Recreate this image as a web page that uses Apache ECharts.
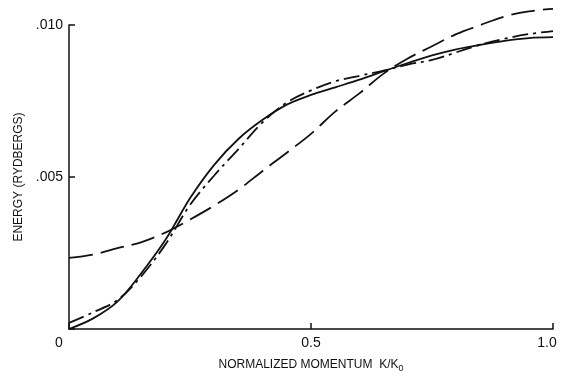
<!DOCTYPE html>
<html>
<head>
<meta charset="utf-8">
<script src="https://cdn.jsdelivr.net/npm/echarts@6/dist/echarts.min.js"></script>
<style>
  html, body { margin: 0; padding: 0; background: #fff; }
  #chart { width: 567px; height: 379px; }
</style>
</head>
<body>
<div id="chart"></div>
<script>
// Normalized momentum K/K0 sample points
const momentum = [0, 0.05, 0.1, 0.15, 0.2, 0.25, 0.3, 0.35, 0.4, 0.45, 0.5,
                  0.55, 0.6, 0.65, 0.7, 0.75, 0.8, 0.85, 0.9, 0.95, 1.0];

// Energy (Rydbergs) for the three dispersion curves
const solidEnergy = [0.0000, 0.00035, 0.00090, 0.00185, 0.00295, 0.00430, 0.00540, 0.00625,
                     0.00688, 0.00738, 0.00770, 0.00795, 0.00820, 0.00848, 0.00875, 0.00900,
                     0.00920, 0.00935, 0.00948, 0.00957, 0.00960];
const dashDotEnergy = [0.00020, 0.00055, 0.00095, 0.00175, 0.00280, 0.00408, 0.00505, 0.00592,
                       0.00680, 0.00745, 0.00785, 0.00815, 0.00833, 0.00850, 0.00870, 0.00885,
                       0.00910, 0.00935, 0.00955, 0.00970, 0.00980];
const longDashEnergy = [0.00234, 0.00245, 0.00266, 0.00286, 0.00318, 0.00360, 0.00406, 0.00458,
                        0.00520, 0.00580, 0.00642, 0.00715, 0.00775, 0.00840, 0.00890, 0.00930,
                        0.00970, 0.01000, 0.01028, 0.01045, 0.01053];

// Axis ticks
const xTicks = [0, 0.5, 1.0];
const xTickLabels = ['0', '0.5', '1.0'];
const yTicks = [0, 0.005, 0.010];
const yTickLabels = ['', '.005', '.010'];

const pair = (ys) => momentum.map((k, i) => [k, ys[i]]);

const FONT = '"Liberation Sans", "DejaVu Sans", sans-serif';
const INK = '#111';

const chart = echarts.init(document.getElementById('chart'), null, { renderer: 'canvas' });

function lineSeries(name, ys, dash) {
  return {
    name: name,
    type: 'line',
    data: pair(ys),
    smooth: 0.35,
    symbol: 'none',
    clip: false,
    lineStyle: { color: INK, width: 1.8, type: dash, cap: 'butt' }
  };
}

chart.setOption({
  animation: false,
  backgroundColor: '#fff',
  grid: { left: 69, right: 14, top: 25, bottom: 50, containLabel: false },
  xAxis: {
    type: 'value',
    min: 0, max: 1, interval: 0.5,
    name: 'NORMALIZED MOMENTUM  {k|K/K}{s|0}',
    nameLocation: 'middle',
    nameGap: 27,
    nameTextStyle: {
      fontFamily: FONT, fontSize: 12, color: INK,
      rich: {
        k: { fontFamily: FONT, fontSize: 12, color: INK },
        s: { fontFamily: FONT, fontSize: 9, color: INK, verticalAlign: 'bottom', padding: [8, 0, 0, 0] }
      }
    },
    axisLine: { show: true, onZero: false, lineStyle: { color: INK, width: 1.5 } },
    axisTick: { show: true, inside: true, length: 6, lineStyle: { color: INK, width: 1.5 } },
    splitLine: { show: false },
    axisLabel: {
      margin: 7,
      fontFamily: FONT, fontSize: 14, color: INK,
      formatter: (v) => {
        const i = xTicks.findIndex(t => Math.abs(t - v) < 1e-9);
        const s = i >= 0 ? xTickLabels[i] : '';
        if (i === 0) return '{a|' + s + '}';
        if (i === xTicks.length - 1) return '{b|' + s + '}';
        return s;
      },
      rich: {
        a: { fontFamily: FONT, fontSize: 14, color: INK, padding: [0, 20, 0, 0] },
        b: { fontFamily: FONT, fontSize: 14, color: INK, padding: [0, 12, 0, 0] }
      }
    }
  },
  yAxis: {
    type: 'value',
    min: 0, max: 0.01, interval: 0.005,
    name: 'ENERGY (RYDBERGS)',
    nameLocation: 'middle',
    nameGap: 43,
    nameTextStyle: { fontFamily: FONT, fontSize: 12, color: INK },
    axisLine: { show: true, onZero: false, lineStyle: { color: INK, width: 1.5 } },
    axisTick: { show: true, inside: true, length: 6, lineStyle: { color: INK, width: 1.5 } },
    splitLine: { show: false },
    axisLabel: {
      margin: 6,
      fontFamily: FONT, fontSize: 14, color: INK,
      formatter: (v) => {
        const i = yTicks.findIndex(t => Math.abs(t - v) < 1e-9);
        return i >= 0 ? yTickLabels[i] : '';
      }
    }
  },
  series: [
    lineSeries('solid', solidEnergy, 'solid'),
    lineSeries('dash-dot', dashDotEnergy, [16, 5, 3, 5]),
    lineSeries('long dash', longDashEnergy, [24, 8])
  ]
});
</script>
</body>
</html>
